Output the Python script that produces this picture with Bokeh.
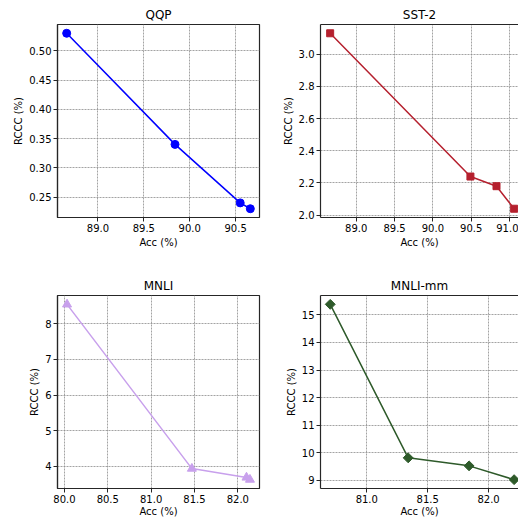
import math
from bokeh.plotting import figure
from bokeh.layouts import gridplot
from bokeh.models import FixedTicker, LinearAxis, Range1d, PrintfTickFormatter
from bokeh.embed import file_html
from bokeh.resources import INLINE

# ---- data ----
qqp_acc = [88.66, 89.84, 90.55, 90.66]
qqp_rccc = [0.53, 0.34, 0.24, 0.23]
sst_acc = [88.66, 90.49, 90.83, 91.06]
sst_rccc = [3.13, 2.24, 2.18, 2.04]
mnli_acc = [80.03, 81.47, 82.10, 82.14]
mnli_rccc = [8.55, 3.93, 3.68, 3.62]
mm_acc = [80.70, 81.34, 81.84, 82.21]
mm_rccc = [15.38, 9.82, 9.53, 9.03]

qqp_xticks = [89.0, 89.5, 90.0, 90.5]
qqp_yticks = [0.25, 0.30, 0.35, 0.40, 0.45, 0.50]
sst_xticks = [89.0, 89.5, 90.0, 90.5, 91.0]
sst_yticks = [2.0, 2.2, 2.4, 2.6, 2.8, 3.0]
mnli_xticks = [80.0, 80.5, 81.0, 81.5, 82.0]
mnli_yticks = [4, 5, 6, 7, 8]
mm_xticks = [81.0, 81.5, 82.0]
mm_yticks = [9, 10, 11, 12, 13, 14, 15]

FONT = "DejaVu Sans"
SPINE = "#262626"


def make(title, xs, ys, xr, yr, xt, yt, xfmt, yfmt, color, marker, msize,
         angle, w, h, ml, mr, mt, mb, right_cropped, xlab_standoff):
    p = figure(width=w, height=h, output_backend="svg", toolbar_location=None,
               x_range=Range1d(*xr), y_range=Range1d(*yr),
               min_border_left=ml, min_border_right=mr,
               min_border_top=mt, min_border_bottom=mb)
    xa = p.below[0]
    ya = p.left[0]
    p.title.text = title
    p.title.align = "center"
    p.title.text_font = FONT
    p.title.text_font_size = "12px"
    p.title.text_font_style = "normal"
    p.title.text_color = "#000000"
    p.title.standoff = 5
    p.title.offset = 0
    p.background_fill_color = "white"
    p.border_fill_color = "white"
    for ax in (xa, ya):
        ax.axis_line_color = SPINE
        ax.axis_line_width = 1.2
        ax.major_tick_line_color = SPINE
        ax.major_tick_out = 4
        ax.major_tick_in = 0
        ax.minor_tick_line_color = None
        ax.major_label_text_font = FONT
        ax.major_label_text_font_size = "10px"
        ax.major_label_text_color = "#000000"
        ax.major_label_standoff = 2
        ax.axis_label_text_font = FONT
        ax.axis_label_text_font_size = "10px"
        ax.axis_label_text_font_style = "normal"
        ax.axis_label_text_color = "#000000"
        ax.axis_label_standoff = 2
    xa.axis_label_standoff = xlab_standoff
    xa.ticker = FixedTicker(ticks=xt)
    ya.ticker = FixedTicker(ticks=yt)
    xa.formatter = PrintfTickFormatter(format=xfmt)
    ya.formatter = PrintfTickFormatter(format=yfmt)
    xa.axis_label = "Acc (%)"
    ya.axis_label = "RCCC (%)"
    for g in (p.xgrid, p.ygrid):
        g.grid_line_color = "#8c8c8c"
        g.grid_line_dash = "2 1"
        g.grid_line_width = 0.8
    p.xgrid.ticker = FixedTicker(ticks=xt)
    p.ygrid.ticker = FixedTicker(ticks=yt)
    if right_cropped:
        p.outline_line_color = None
        top = LinearAxis(ticker=FixedTicker(ticks=[]))
        top.major_tick_line_color = None
        top.minor_tick_line_color = None
        top.major_label_text_font_size = "0px"
        top.major_label_standoff = 0
        top.axis_line_color = SPINE
        top.axis_line_width = 1.2
        p.add_layout(top, "above")
    else:
        p.outline_line_color = SPINE
        p.outline_line_width = 1.2
        p.outline_line_alpha = 1.0
    p.line(xs, ys, line_color=color, line_width=1.5)
    p.scatter(xs, ys, marker=marker, size=msize, angle=angle,
              fill_color=color, line_color=color)
    return p


tl = make("QQP", qqp_acc, qqp_rccc, (88.56, 90.76), (0.215, 0.545),
          qqp_xticks, qqp_yticks, "%.1f", "%.2f", "#0000ff", "circle", 8, 0,
          275, 271, 57, 16, 24, 54, False, 2)
tr = make("SST-2", sst_acc, sst_rccc, (88.534, 91.117), (1.9855, 3.1845),
          sst_xticks, sst_yticks, "%.1f", "%.1f", "#b5202e", "square", 7, 0,
          243, 271, 45, 0, 24, 54, True, 2)
bl = make("MNLI", mnli_acc, mnli_rccc, (79.92, 82.25), (3.37, 8.80),
          mnli_xticks, mnli_yticks, "%.1f", "%d", "#c8a0ec", "triangle", 9, 0,
          275, 248, 57, 16, 24, 29, False, 0)
br = make("MNLI-mm", mm_acc, mm_rccc, (80.62, 82.246), (8.71, 15.70),
          mm_xticks, mm_yticks, "%.1f", "%d", "#2e5a2a", "square", 7,
          math.pi / 4, 243, 248, 45, 0, 24, 29, True, 0)

grid = gridplot([[tl, tr], [bl, br]], toolbar_location=None)
open("out.html", "w").write(file_html(grid, INLINE))
